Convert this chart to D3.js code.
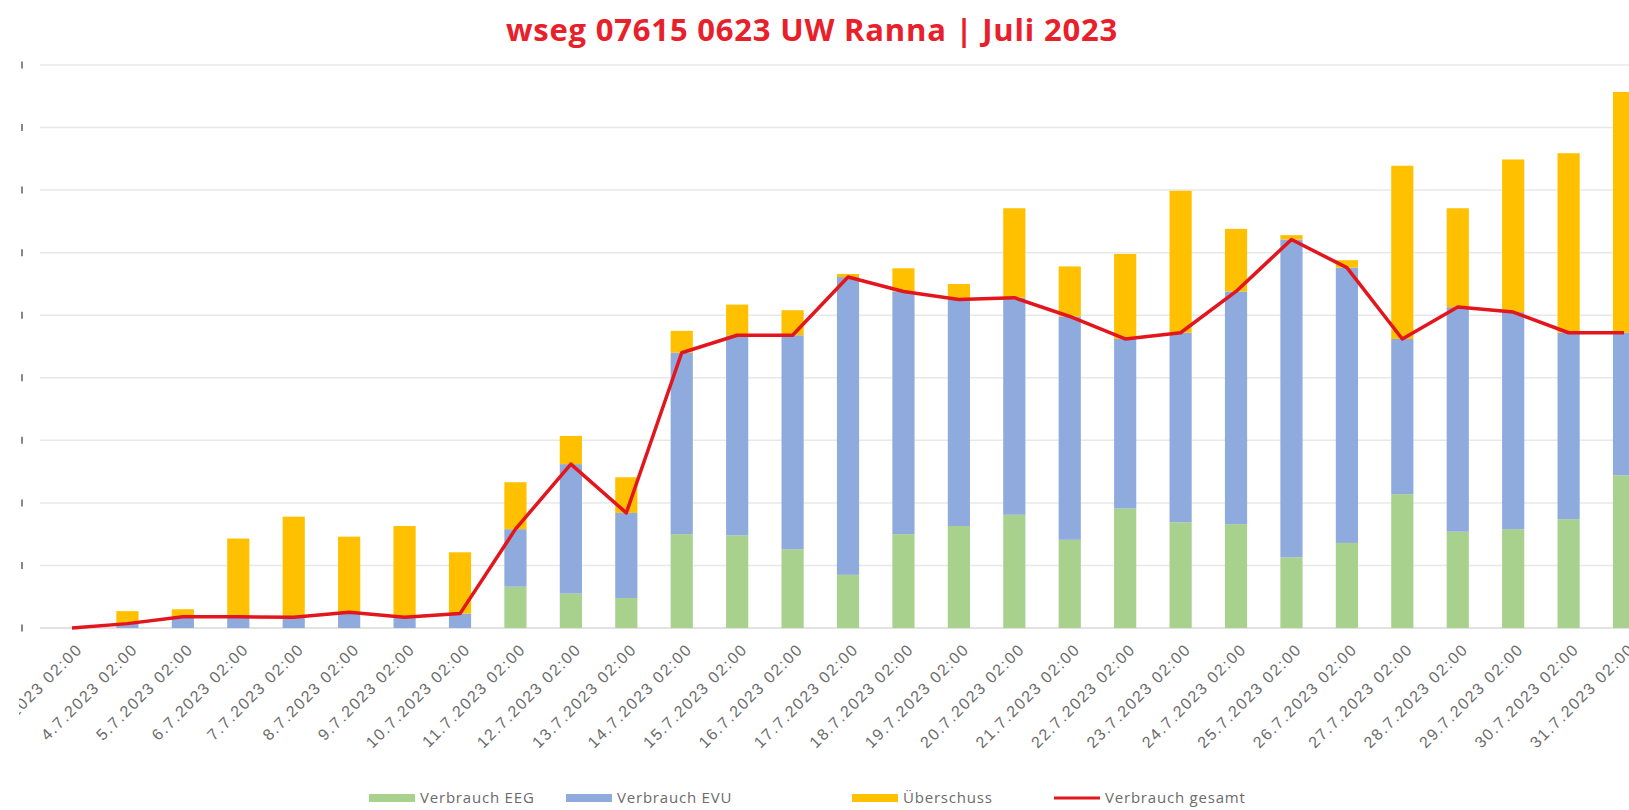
<!DOCTYPE html>
<html>
<head>
<meta charset="utf-8">
<script src="https://cdn.jsdelivr.net/npm/d3@7"></script>
<style>
  body { margin: 0; background: #fff; }
  svg { display: block; font-family: "Open Sans", "Noto Sans", sans-serif; }
</style>
</head>
<body>
<svg id="chart" width="1629" height="810"></svg>
<script>
const days = [
  "3.7.2023 02:00", "4.7.2023 02:00", "5.7.2023 02:00", "6.7.2023 02:00", "7.7.2023 02:00",
  "8.7.2023 02:00", "9.7.2023 02:00", "10.7.2023 02:00", "11.7.2023 02:00", "12.7.2023 02:00",
  "13.7.2023 02:00", "14.7.2023 02:00", "15.7.2023 02:00", "16.7.2023 02:00", "17.7.2023 02:00",
  "18.7.2023 02:00", "19.7.2023 02:00", "20.7.2023 02:00", "21.7.2023 02:00", "22.7.2023 02:00",
  "23.7.2023 02:00", "24.7.2023 02:00", "25.7.2023 02:00", "26.7.2023 02:00", "27.7.2023 02:00",
  "28.7.2023 02:00", "29.7.2023 02:00", "30.7.2023 02:00", "31.7.2023 02:00"
];

// values (gridline units, y labels are cut off)
const verbrauchEEG = [0, 0, 0, 0, 0, 0, 0, 0, 0.66, 0.55, 0.48, 1.50, 1.48, 1.26, 0.85,
  1.50, 1.63, 1.81, 1.41, 1.91, 1.69, 1.66, 1.13, 1.36, 2.14, 1.54, 1.58, 1.74, 2.44];
const verbrauchEVU = [0, 0.07, 0.18, 0.18, 0.17, 0.25, 0.17, 0.23, 0.92, 2.07, 1.36, 2.90, 3.20, 3.42, 4.76,
  3.88, 3.62, 3.47, 3.57, 2.71, 3.03, 3.72, 5.08, 4.40, 2.48, 3.59, 3.47, 2.98, 2.28];
const ueberschuss = [0, 0.20, 0.12, 1.25, 1.61, 1.21, 1.46, 0.98, 0.75, 0.45, 0.57, 0.35, 0.49, 0.40, 0.05,
  0.37, 0.25, 1.43, 0.80, 1.36, 2.27, 1.00, 0.07, 0.12, 2.77, 1.58, 2.44, 2.87, 3.85];

const seriesNames = ["Verbrauch EEG", "Verbrauch EVU", "Überschuss"];
const seriesColors = ["#a9d18e", "#8faadc", "#ffc000"];
const lineName = "Verbrauch gesamt";
const lineColor = "#e3161d";
const yTicks = [0, 1, 2, 3, 4, 5, 6, 7, 8, 9];

const rows = days.map((d, i) => ({
  day: d,
  "Verbrauch EEG": verbrauchEEG[i],
  "Verbrauch EVU": verbrauchEVU[i],
  "Überschuss": ueberschuss[i],
  total: verbrauchEEG[i] + verbrauchEVU[i]
}));

const svg = d3.select("#chart");

// the source picture is cropped on the left, so the first date label is cut
svg.append("defs").append("clipPath")
  .attr("id", "crop")
  .append("rect")
  .attr("x", 19).attr("y", 0)
  .attr("width", 1610).attr("height", 810);

const step = 55.43;
const x = d3.scaleBand()
  .domain(days)
  .range([72 - step / 2, 72 + step * (days.length - 0.5)])
  .paddingInner(0.6)
  .paddingOuter(0.3);

const y = d3.scaleLinear().domain([0, 9]).range([628, 65]);

// title
svg.append("text")
  .attr("x", 812).attr("y", 41)
  .attr("text-anchor", "middle")
  .attr("font-size", 31)
  .attr("font-weight", "bold")
  .attr("letter-spacing", 0.8)
  .attr("fill", "#e8202a")
  .text("wseg 07615 0623 UW Ranna | Juli 2023");

// gridlines
svg.append("g")
  .selectAll("line")
  .data(yTicks)
  .enter().append("line")
  .attr("x1", 40).attr("x2", 1629)
  .attr("y1", d => y(d)).attr("y2", d => y(d))
  .attr("stroke", d => d === 0 ? "#d9d9d9" : "#e8e8e8")
  .attr("stroke-width", 1.5);

// y axis: labels are cut off, only small marks remain
svg.append("g")
  .selectAll("line")
  .data(yTicks)
  .enter().append("line")
  .attr("x1", 22).attr("x2", 22)
  .attr("y1", d => y(d) - 3.5).attr("y2", d => y(d) + 3.5)
  .attr("stroke", "#6a6a6a")
  .attr("stroke-width", 1.6);

// stacked bars
const stack = d3.stack().keys(seriesNames)(rows);
svg.append("g")
  .selectAll("g")
  .data(stack)
  .enter().append("g")
  .attr("fill", (d, i) => seriesColors[i])
  .selectAll("rect")
  .data(d => d)
  .enter().append("rect")
  .attr("x", d => x(d.data.day))
  .attr("width", x.bandwidth())
  .attr("y", d => y(d[1]))
  .attr("height", d => y(d[0]) - y(d[1]));

// total line
const line = d3.line()
  .x(d => x(d.day) + x.bandwidth() / 2)
  .y(d => y(d.total));

svg.append("path")
  .datum(rows)
  .attr("fill", "none")
  .attr("stroke", lineColor)
  .attr("stroke-width", 3.5)
  .attr("stroke-linejoin", "round")
  .attr("d", line);

// x labels, rotated
const xAxis = d3.axisBottom(x).tickSize(0).tickPadding(0);
const gx = svg.append("g")
  .attr("clip-path", "url(#crop)")
  .append("g")
  .attr("transform", "translate(0, 648)")
  .call(xAxis);
gx.select(".domain").remove();
gx.selectAll("text")
  .attr("font-size", 16)
  .attr("letter-spacing", 1.6)
  .attr("fill", "#6b6b6b")
  .attr("text-anchor", "end")
  .attr("dx", "0.4em")
  .attr("dy", "0.6em")
  .attr("transform", "rotate(-45)");

// legend
const legendItems = [
  { name: seriesNames[0], color: seriesColors[0], x: 369, type: "bar" },
  { name: seriesNames[1], color: seriesColors[1], x: 566, type: "bar" },
  { name: seriesNames[2], color: seriesColors[2], x: 852, type: "bar" },
  { name: lineName, color: lineColor, x: 1054, type: "line" }
];
const legend = svg.append("g").attr("transform", "translate(0, 798)");
legendItems.forEach(item => {
  if (item.type === "bar") {
    legend.append("rect")
      .attr("x", item.x).attr("y", -4)
      .attr("width", 46).attr("height", 8)
      .attr("fill", item.color);
  } else {
    legend.append("line")
      .attr("x1", item.x).attr("x2", item.x + 46)
      .attr("y1", 0).attr("y2", 0)
      .attr("stroke", item.color)
      .attr("stroke-width", 3);
  }
  legend.append("text")
    .attr("x", item.x + 51).attr("y", 5)
    .attr("font-size", 15)
    .attr("letter-spacing", 0.8)
    .attr("fill", "#6b6b6b")
    .text(item.name);
});
</script>
</body>
</html>
